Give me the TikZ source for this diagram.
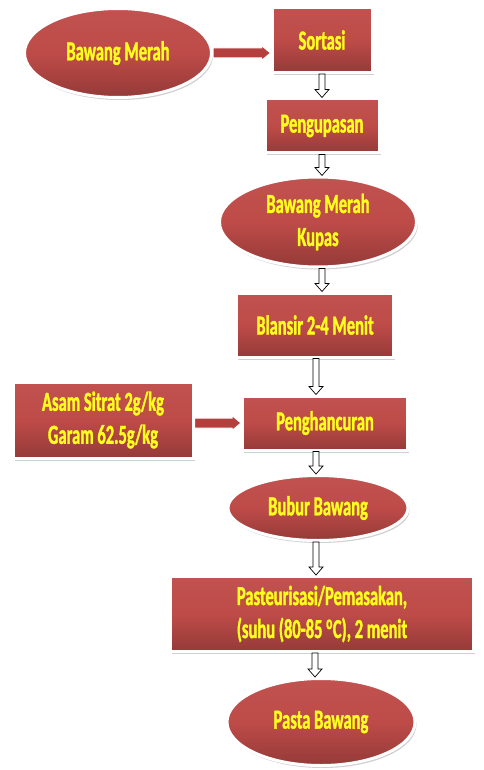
\documentclass[tikz,border=0pt]{standalone}
\usepackage{fontspec}
\newfontfamily\calib[FakeStretch=0.6,FakeBold=1.2]{Carlito}
\usetikzlibrary{shapes.geometric,shadows,calc}
\definecolor{boxred}{HTML}{BE4B48}
\definecolor{boxdark}{HTML}{8E2C2A}
\definecolor{txtyellow}{HTML}{FFFF1E}
\definecolor{arrowred}{HTML}{B4403D}
\tikzset{
  shapebase/.style={draw=white, line width=3pt, text=txtyellow,
    top color=boxred!96!white, bottom color=boxred!78!black, middle color=boxred,
    font=\calib\bfseries\fontsize{27.5}{33}\selectfont, align=center, inner sep=0pt,
    drop shadow={shadow xshift=1.5pt, shadow yshift=-2.5pt, opacity=0.3, fill=black!60}},
  boxnode/.style={shapebase, rectangle, minimum width=#1},
  ellnode/.style={shapebase, ellipse, minimum width=#1},
  downarrow/.style={draw=black, fill=white, line width=0.7pt,
    to path={let \p1=(\tikztostart), \p2=(\tikztotarget) in
      (\x1-3pt,\y1) -- (\x1-3pt,\y2+8pt) -- (\x1-7pt,\y2+8pt) -- (\x1,\y2)
      -- (\x1+7pt,\y2+8pt) -- (\x1+3pt,\y2+8pt) -- (\x1+3pt,\y1) -- cycle}},
  redarrow/.style={fill=arrowred, draw=white, line width=1pt,
    to path={let \p1=(\tikztostart), \p2=(\tikztotarget) in
      (\x1,\y1+5pt) -- (\x2-9pt,\y1+5pt) -- (\x2-9pt,\y1+7.5pt) -- (\x2,\y1)
      -- (\x2-9pt,\y1-7.5pt) -- (\x2-9pt,\y1-5pt) -- (\x1,\y1-5pt) -- cycle}}
}
\begin{document}
\begin{tikzpicture}[x=1pt,y=-1pt]
\fill[white] (0,0) rectangle (483,770);
\useasboundingbox (0,0) rectangle (483,770);

\node[ellnode=187pt, minimum height=89pt] (bm) at (118,53) {Bawang Merah};
\node[boxnode=100pt, minimum height=65pt] (sortasi) at (322,40) {Sortasi};
\node[boxnode=114pt, minimum height=54pt] (peng) at (322,126) {Pengupasan};
\node[ellnode=197pt, minimum height=90pt] (kupas) at (318,222) {Bawang Merah\\Kupas};
\node[boxnode=157pt, minimum height=64pt] (blansir) at (315,325) {Blansir 2-4 Menit};
\node[boxnode=180pt, minimum height=76pt] (asam) at (103,420) {Asam Sitrat 2g/kg\\Garam 62.5g/kg};
\node[boxnode=165pt, minimum height=54pt] (hancur) at (325,423) {Penghancuran};
\node[ellnode=180pt, minimum height=65pt] (bubur) at (318,508) {Bubur Bawang};
\node[boxnode=303pt, minimum height=75pt] (past) at (322,614) {Pasteurisasi/Pemasakan,\\(suhu (80-85 \textsuperscript{o}C), 2 menit};
\node[ellnode=188pt, minimum height=87pt] (pasta) at (321,722) {Pasta Bawang};

\draw[redarrow] (bm.east) to (sortasi.west);
\draw[redarrow] ([yshift=-3pt]asam.east) to (hancur.west);

\draw[downarrow] (sortasi.south) to (peng.north);
\draw[downarrow] (peng.south) to (kupas.north);
\draw[downarrow] ([xshift=4pt]kupas.south) to (blansir.north);
\draw[downarrow] ([xshift=1pt]blansir.south) to ([xshift=-9pt]hancur.north);
\draw[downarrow] ([xshift=-9pt]hancur.south) to (bubur.north);
\draw[downarrow] ([xshift=-2pt]bubur.south) to (past.north);
\draw[downarrow] ([xshift=-7pt]past.south) to (pasta.north);
\end{tikzpicture}
\end{document}
